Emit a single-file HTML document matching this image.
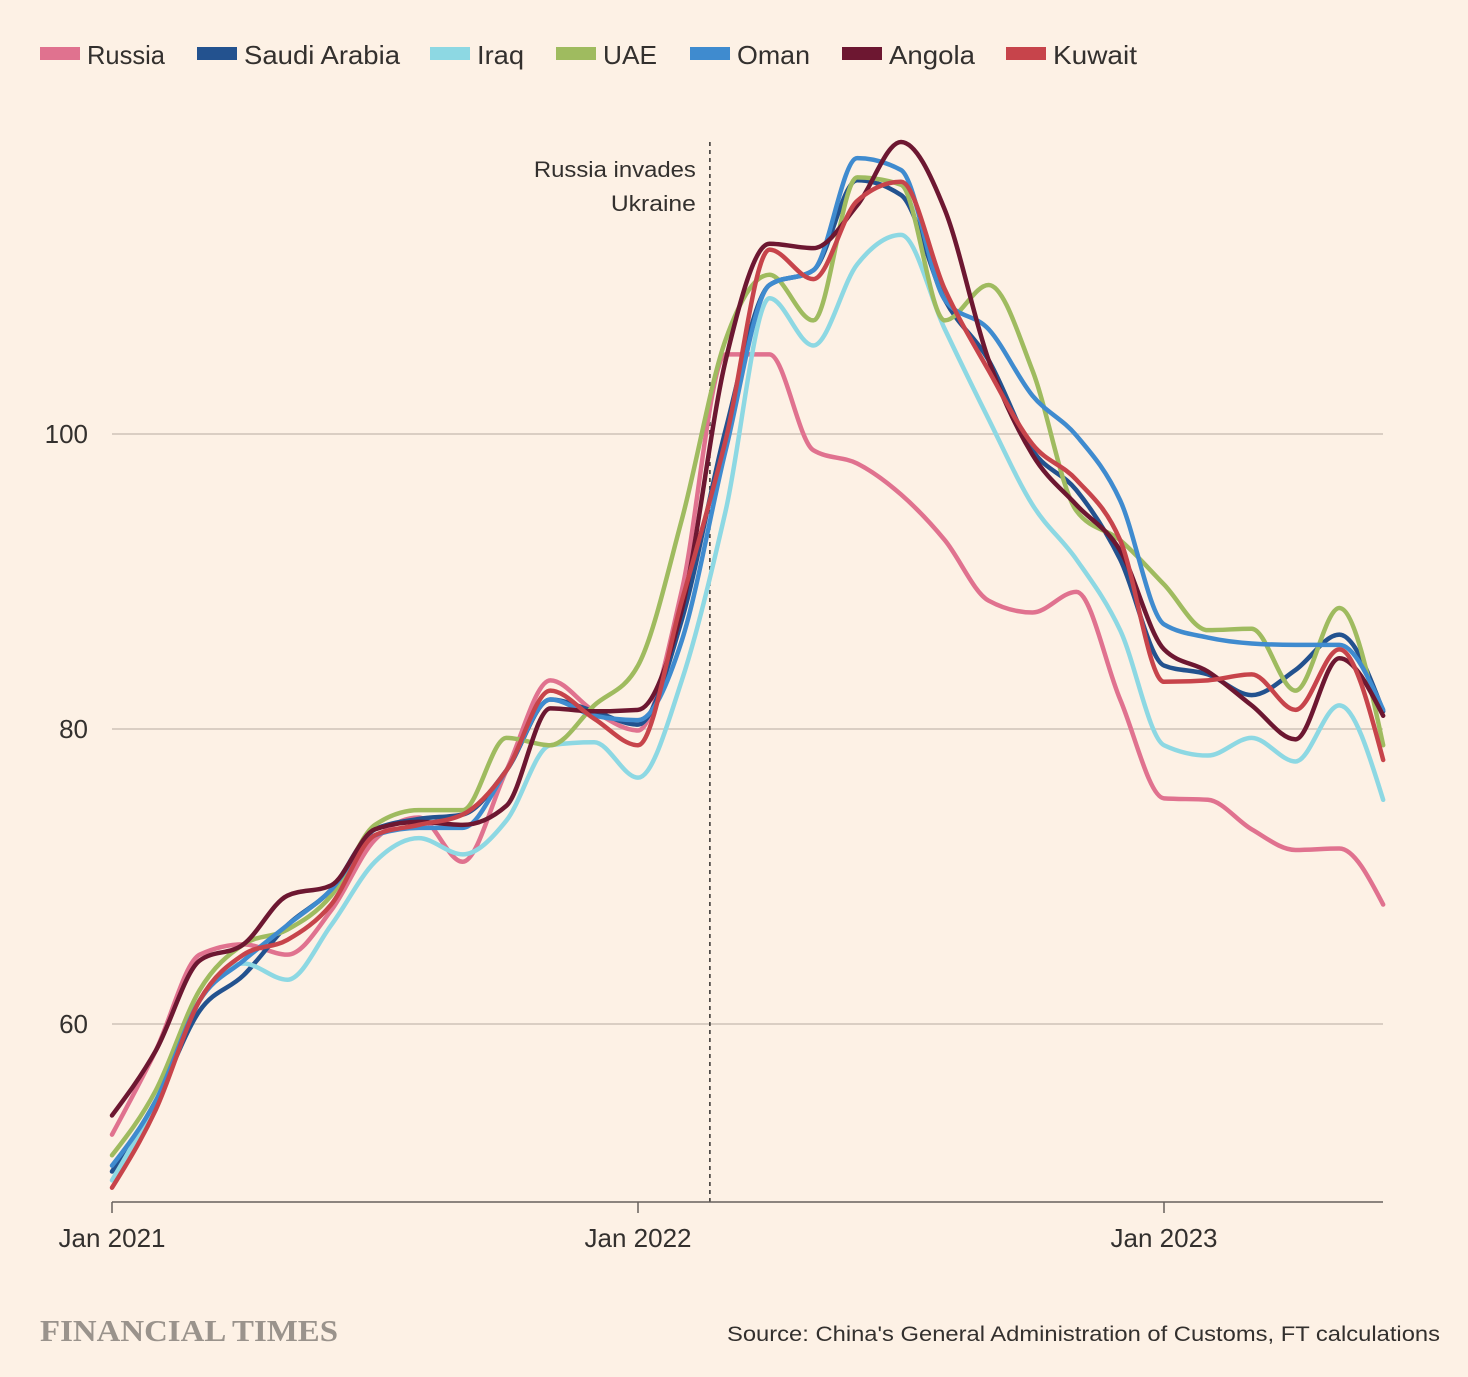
<!DOCTYPE html>
<html><head><meta charset="utf-8">
<style>
html,body{margin:0;padding:0;background:#fdf1e5;}
body{width:1468px;height:1372px;overflow:hidden;font-family:"Liberation Sans",sans-serif;}
svg text{font-family:"Liberation Sans",sans-serif;fill:#33302e;}
</style></head>
<body>
<svg id="chart" width="1468" height="1372" xmlns="http://www.w3.org/2000/svg">
<rect width="1468" height="1372" fill="#fdf1e5"/>
<g id="legend"></g>
<g id="grid"></g>
<g id="annot"></g>
<g id="series"></g>
<g id="xaxis"></g>
<text x="40" y="1341" textLength="298" lengthAdjust="spacingAndGlyphs" style="font-family:'Liberation Serif',serif;font-weight:bold;font-size:31px;fill:#9a938c">FINANCIAL TIMES</text>
<text x="727" y="1341" textLength="713" lengthAdjust="spacingAndGlyphs" style="font-size:21px;fill:#33302e">Source: China's General Administration of Customs, FT calculations</text>
</svg>
<script>
const seriesNames = ["Russia","Saudi Arabia","Iraq","UAE","Oman","Angola","Kuwait"];
const seriesColors = ["#e0728f","#23528f","#8dd8e3","#9fbb5f","#3f8bcf","#6d1731","#c7444b"];
const russia = [52.5,58.2,64.7,65.4,64.7,67.7,72.5,74.0,71.0,77.2,83.3,81.2,79.9,89.4,105.4,105.4,98.9,98.0,95.9,92.8,88.7,87.9,89.3,82.0,75.3,75.2,73.2,71.8,71.9,68.1];
const saudi = [50.0,54.8,60.9,63.3,66.7,69.1,73.2,73.9,74.2,77.2,82.0,81.2,80.3,87.4,100.3,110.1,111.1,117.2,116.2,109.1,105.0,98.9,96.2,91.5,84.3,83.7,82.3,84.0,86.4,81.2];
const iraq = [49.4,54.8,61.6,64.1,63.0,66.7,71.0,72.6,71.5,73.8,78.9,79.1,76.7,83.3,94.8,109.2,106.0,111.5,113.5,107.1,101.0,95.2,91.5,86.7,78.9,78.2,79.4,77.8,81.6,75.2];
const uae = [51.1,55.5,62.3,65.4,66.4,68.7,73.5,74.5,74.5,79.4,78.9,81.6,84.3,94.2,106.4,110.8,107.7,117.4,116.9,107.7,110.1,104.3,94.8,92.8,89.8,86.7,86.8,82.6,88.2,78.9];
const oman = [50.4,54.8,61.6,64.3,66.7,69.1,72.8,73.3,73.3,77.2,82.0,80.9,80.6,86.0,98.9,110.1,111.1,118.7,117.9,109.1,107.1,102.6,99.9,95.5,87.1,86.2,85.8,85.7,85.7,81.3];
const angola = [53.8,58.2,64.3,65.4,68.7,69.4,73.2,73.7,73.5,74.8,81.4,81.2,81.3,88.1,105.0,112.9,112.6,115.5,119.8,115.2,105.0,98.6,95.2,92.1,85.4,83.9,81.6,79.3,84.8,80.9];
const kuwait = [48.9,54.2,61.6,64.7,65.7,68.1,72.8,73.5,74.2,77.2,82.6,80.7,78.9,88.7,99.6,112.5,110.5,115.8,117.1,109.8,104.3,99.3,96.9,92.8,83.2,83.3,83.7,81.3,85.4,77.9];
const yTicks = [60,80,100];
const xTickLabels = ["Jan 2021","Jan 2022","Jan 2023"];
const xTickMonths = [0,12,24];
const invasionMonth = 13.64;

const allSeries = [russia,saudi,iraq,uae,oman,angola,kuwait];
const NS="http://www.w3.org/2000/svg";
function xs(m){return 112 + m*(526/12);}
function ys(v){return 434 + (100-v)*14.75;}
function mk(tag,attrs,parent){const e=document.createElementNS(NS,tag);for(const k in attrs)e.setAttribute(k,attrs[k]);parent.appendChild(e);return e;}

const lg=document.getElementById('legend');
const legX=[40,197,430,556,690,842,1006];
const legW=[78,156,47,54,73,86,84];
seriesNames.forEach((n,i)=>{
  const g=mk('g',{},lg);
  
  
  mk('rect',{x:legX[i],y:47,width:40,height:13,fill:seriesColors[i]},g);
  const t=mk('text',{x:legX[i]+47,y:64,'font-size':'26px',textLength:legW[i],lengthAdjust:'spacingAndGlyphs'},g);t.textContent=n;
});

const gr=document.getElementById('grid');
yTicks.forEach(v=>{
  const l=mk('line',{x1:112,x2:1383,y1:ys(v),y2:ys(v),stroke:'#cec3b8','stroke-width':1.5},gr);
  
  
  const t=mk('text',{x:88,y:ys(v)+9,'text-anchor':'end','font-size':'26px'},gr);
  
  
  t.textContent=v;
});

const an=document.getElementById('annot');
mk('line',{x1:xs(invasionMonth),x2:xs(invasionMonth),y1:142,y2:1202,stroke:'#33302e','stroke-width':1.5,'stroke-dasharray':'4,4'},an);
[["Russia invades",177,162],["Ukraine",211,85]].forEach(([s,y,w])=>{
  const t=mk('text',{x:xs(invasionMonth)-14-w,y:y,'font-size':'22px',textLength:w,lengthAdjust:'spacingAndGlyphs'},an);t.textContent=s;
});

function sign(x){return x<0?-1:1;}
function monoPath(pts){
  const n=pts.length,t=new Array(n);
  for(let i=1;i<n-1;i++){
    const [x0,y0]=pts[i-1],[x1,y1]=pts[i],[x2,y2]=pts[i+1];
    const h0=x1-x0,h1=x2-x1,s0=(y1-y0)/h0,s1=(y2-y1)/h1,p=(s0*h1+s1*h0)/(h0+h1);
    t[i]=(sign(s0)+sign(s1))*Math.min(Math.abs(s0),Math.abs(s1),0.5*Math.abs(p))||0;
  }
  const h=pts[1][0]-pts[0][0];
  t[0]=(3*(pts[1][1]-pts[0][1])/h - t[1])/2;
  const hn=pts[n-1][0]-pts[n-2][0];
  t[n-1]=(3*(pts[n-1][1]-pts[n-2][1])/hn - t[n-2])/2;
  let d='M'+pts[0][0]+','+pts[0][1];
  for(let i=0;i<n-1;i++){
    const [x0,y0]=pts[i],[x1,y1]=pts[i+1],dx=(x1-x0)/3;
    d+=' C'+(x0+dx)+','+(y0+dx*t[i])+' '+(x1-dx)+','+(y1-dx*t[i+1])+' '+x1+','+y1;
  }
  return d;
}
const sg=document.getElementById('series');
allSeries.forEach((arr,i)=>{
  const pts=arr.map((v,m)=>[xs(m),ys(v)]);
  const p=mk('path',{d:monoPath(pts),fill:'none',stroke:seriesColors[i],'stroke-width':4.5,'stroke-linejoin':'round','stroke-linecap':'round'},sg);
  
  
});

const xa=document.getElementById('xaxis');
mk('line',{x1:112,x2:1383,y1:1202,y2:1202,stroke:'#66605c','stroke-width':1.5},xa);
xTickMonths.forEach((m,i)=>{
  mk('line',{x1:xs(m),x2:xs(m),y1:1202,y2:1213,stroke:'#66605c','stroke-width':1.5},xa);
  const t=mk('text',{x:xs(m),y:1247,'text-anchor':'middle','font-size':'26px'},xa);
  
  
  t.textContent=xTickLabels[i];
});
</script>
</body></html>
